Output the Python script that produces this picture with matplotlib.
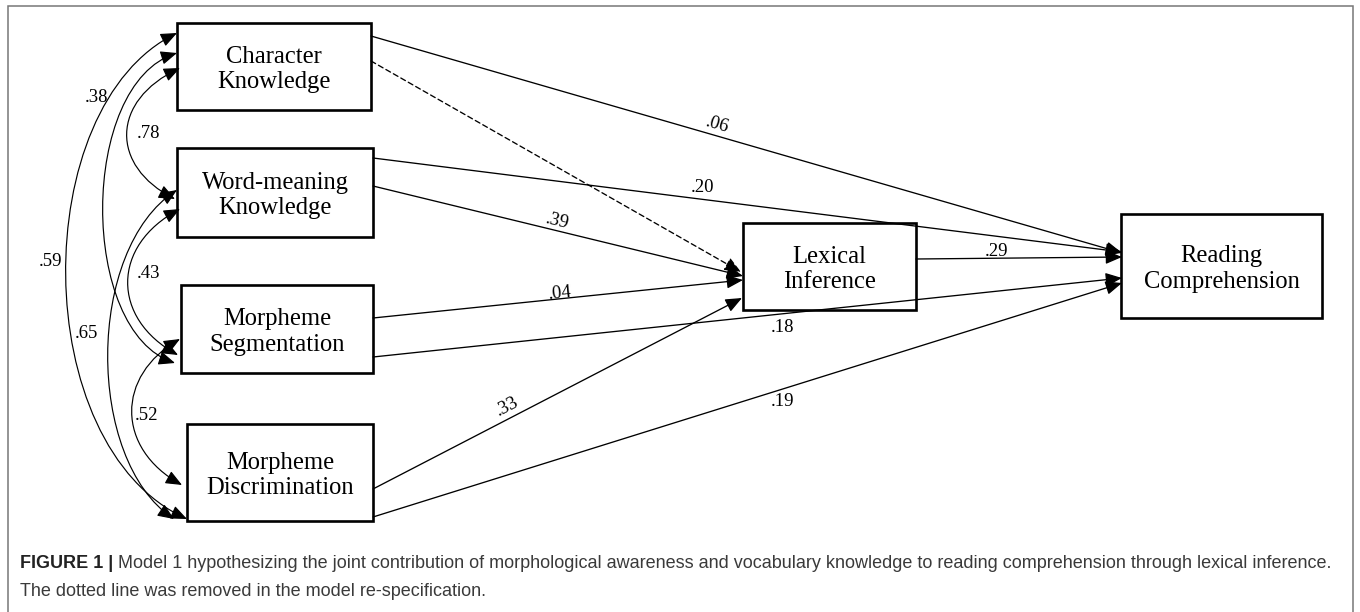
import numpy as np
import matplotlib
matplotlib.use('Agg')
import matplotlib.pyplot as plt
from matplotlib.patches import Rectangle, FancyArrowPatch
from matplotlib.path import Path

# ---- model content ----
nodes = ['Character\nKnowledge', 'Word-meaning\nKnowledge', 'Morpheme\nSegmentation',
         'Morpheme\nDiscrimination', 'Lexical\nInference', 'Reading\nComprehension']

# directed paths (from node, to node, coefficient); the removed one has no estimate
path_from = [0, 0, 1, 1, 2, 2, 3, 3, 4]
path_to = [5, 4, 5, 4, 4, 5, 4, 5, 5]
path_coef = ['.06', '', '.20', '.39', '.04', '.18', '.33', '.19', '.29']
path_removed = [False, True, False, False, False, False, False, False, False]

# correlations among the four predictors
corr_a = [0, 0, 0, 1, 1, 2]
corr_b = [1, 2, 3, 2, 3, 3]
corr_r = ['.78', '.38', '.59', '.43', '.65', '.52']

caption_bold = 'FIGURE 1 |'
caption_1 = (' Model 1 hypothesizing the joint contribution of morphological awareness and '
             'vocabulary knowledge to reading comprehension through lexical inference.')
caption_2 = 'The dotted line was removed in the model re-specification.'

# ---- layout (pixels, origin top-left) ----
box_x0 = [177, 177, 181, 187, 743, 1121]
box_x1 = [371, 373, 373, 373, 916, 1322]
box_y0 = [23, 148, 285, 424, 223, 214]
box_y1 = [110, 237, 373, 521, 310, 318]

path_start = [(371, 36), (371, 61), (373, 158), (373, 186), (373, 318),
              (373, 357), (373, 489), (373, 517), (916, 259)]
path_end = [(1122, 253), (741, 272), (1122, 252), (743, 276), (743, 280),
            (1122, 278), (742, 298), (1122, 283), (1122, 257)]
path_lab = [(717, 125), None, (702, 187), (557, 221), (560, 293),
            (783, 328), (507, 407), (782, 402), (997, 251)]
path_rot = [True, False, False, True, True, False, True, False, False]

corr_start = [(180, 68), (177, 53), (177, 33), (180, 209), (177, 190), (180, 339)]
corr_end = [(175, 199), (175, 363), (187, 519), (178, 355), (174, 519), (182, 485)]
corr_left = [127, 103, 66, 128, 108, 132]
corr_k = [0.25, 0.10, 0.15, 0.25, 0.18, 0.25]
corr_lab = [(148, 133), (97, 97), (50, 262), (148, 273), (86, 334), (147, 416)]

serif = ['Liberation Serif', 'DejaVu Serif']
sans = ['Liberation Sans', 'DejaVu Sans']

fig = plt.figure(figsize=(13.6, 6.12), dpi=100)
ax = fig.add_axes([0, 0, 1, 1])
ax.set_xlim(0, 1360)
ax.set_ylim(612, 0)
ax.axis('off')

# outer frame
ax.plot([8, 8, 1353, 1353], [620, 6, 6, 620], color='#777777', lw=1.1,
        solid_joinstyle='miter')

# boxes
for i, lab in enumerate(nodes):
    ax.add_patch(Rectangle((box_x0[i], box_y0[i]), box_x1[i] - box_x0[i],
                           box_y1[i] - box_y0[i], fill=False, ec='black', lw=1.9))
    ax.text((box_x0[i] + box_x1[i]) / 2, (box_y0[i] + box_y1[i]) / 2 + 3, lab,
            ha='center', va='center', fontsize=17.7, family=serif, linespacing=1.2)

head = '-|>,head_length=1.0,head_width=0.42'

# directed paths
for i in range(len(path_from)):
    (xs, ys), (xe, ye) = path_start[i], path_end[i]
    arr = FancyArrowPatch((xs, ys), (xe, ye), arrowstyle=head, mutation_scale=10,
                          shrinkA=0, shrinkB=0, lw=0.95, color='black',
                          linestyle=(0, (4, 2.5)) if path_removed[i] else '-')
    ax.add_patch(arr)
    if path_coef[i]:
        rot = np.degrees(np.arctan2(-(ye - ys), xe - xs)) if path_rot[i] else 0
        ax.text(path_lab[i][0], path_lab[i][1], path_coef[i], ha='center', va='center',
                fontsize=13.5, family=serif, rotation=rot, rotation_mode='anchor')

# correlation curves
for i in range(len(corr_r)):
    (x0, y0), (x3, y3) = corr_start[i], corr_end[i]
    c = (corr_left[i] - (x0 + x3) / 8) / 0.75
    dy = y3 - y0
    verts = [(x0, y0), (c, y0 + corr_k[i] * dy), (c, y3 - corr_k[i] * dy), (x3, y3)]
    p = Path(verts, [Path.MOVETO, Path.CURVE4, Path.CURVE4, Path.CURVE4])
    ax.add_patch(FancyArrowPatch(path=p, arrowstyle='<|-|>,head_length=1.0,head_width=0.42',
                                 mutation_scale=10, lw=0.85, color='black'))
    ax.text(corr_lab[i][0], corr_lab[i][1], corr_r[i], ha='center', va='center',
            fontsize=13.5, family=serif)

# caption
r = fig.canvas.get_renderer()
fs = 13.0
tb = ax.text(20, 564, caption_bold, fontsize=fs, weight='bold', family=sans,
             color='#222222', va='center')
bb = tb.get_window_extent(r)
ax.text(bb.x1, 564, caption_1, fontsize=fs, family=sans, color='#3a3a3a', va='center')
ax.text(20, 592, caption_2, fontsize=fs, family=sans, color='#3a3a3a', va='center')

fig.savefig('out.png', dpi=100)
